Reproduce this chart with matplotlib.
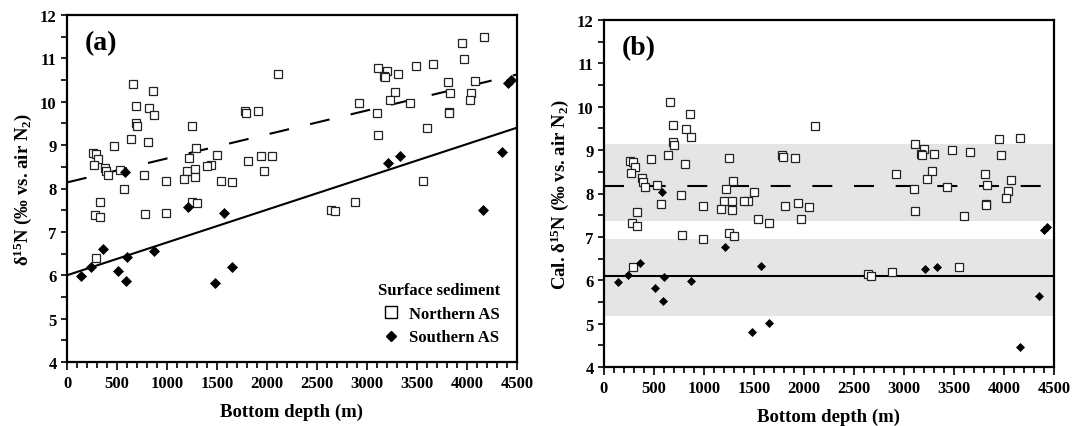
import numpy as np
import matplotlib
matplotlib.use('Agg')
import matplotlib.pyplot as plt
from matplotlib.lines import Line2D

plt.rcParams['font.family'] = 'Liberation Serif'
plt.rcParams['font.weight'] = 'bold'
plt.rcParams['mathtext.default'] = 'regular'

# ---- data ----
# Northern AS (open squares): bottom depth (m), measured d15N (a), calibrated d15N (b)
north_depth = [663, 863, 693, 823, 873, 690, 700, 1253, 643, 810,
               473, 1293, 257, 287, 307, 267, 1220, 1503, 1440, 1397,
               383, 393, 410, 533, 773, 987, 1200, 1280, 1283, 1167,
               1543, 1653, 1807, 1943, 2050, 1970, 1783, 1793, 1910, 2110,
               567, 333, 277, 333, 783, 987, 1253, 1297, 290,
               4165, 3950, 3973, 3113, 3200, 3170, 3183, 3305, 3485, 3658,
               3810, 4075, 3830, 4043, 4025, 3283, 3232, 3430, 2921, 3098,
               3817, 3822, 3600, 3113, 3555, 2880, 2642, 2675]
north_d15n = [10.42, 10.24, 9.90, 9.86, 9.70, 9.50, 9.43, 9.43, 9.15, 9.07,
              8.99, 8.94, 8.81, 8.79, 8.69, 8.54, 8.71, 8.77, 8.54, 8.51,
              8.48, 8.41, 8.31, 8.42, 8.31, 8.18, 8.41, 8.44, 8.26, 8.21,
              8.18, 8.15, 8.64, 8.76, 8.74, 8.41, 9.78, 9.74, 9.79, 10.64,
              7.98, 7.68, 7.39, 7.35, 7.41, 7.43, 7.70, 7.67, 6.39,
              11.49, 11.35, 10.98, 10.77, 10.70, 10.59, 10.56, 10.65, 10.82, 10.88,
              10.46, 10.48, 10.21, 10.21, 10.03, 10.23, 10.03, 9.96, 9.97, 9.73,
              9.76, 9.74, 9.39, 9.23, 8.18, 7.69, 7.51, 7.48]
north_cal = [10.12, 9.84, 9.59, 9.49, 9.30, 9.19, 9.12, 8.81, 8.89, 8.69,
             8.80, 8.29, 8.75, 8.72, 8.60, 8.48, 8.10, 8.03, 7.83, 7.82,
             8.36, 8.26, 8.16, 8.20, 7.96, 7.72, 7.82, 7.83, 7.63, 7.65,
             7.41, 7.33, 7.72, 7.77, 7.70, 7.41, 8.88, 8.84, 8.82, 9.56,
             7.75, 7.57, 7.31, 7.24, 7.05, 6.96, 7.08, 7.02, 6.30,
             9.27, 9.26, 8.88, 9.15, 9.02, 8.92, 8.89, 8.90, 9.00, 8.95,
             8.46, 8.32, 8.19, 8.06, 7.90, 8.52, 8.33, 8.16, 8.44, 8.10,
             7.75, 7.74, 7.48, 7.60, 6.31, 6.20, 6.14, 6.09]

# Southern AS (filled diamonds)
south_depth = [140, 237, 363, 513, 600, 593, 867, 580, 1207, 1567, 1480, 1647,
               4405, 4435, 3213, 3330, 4350, 4160]
south_d15n = [5.99, 6.18, 6.60, 6.10, 6.42, 5.87, 6.56, 8.38, 7.58, 7.43, 5.82, 6.18,
              10.44, 10.50, 8.58, 8.75, 8.83, 7.51]
south_cal = [5.97, 6.11, 6.40, 5.83, 6.07, 5.52, 5.99, 8.03, 6.77, 6.33, 4.81, 5.02,
             7.17, 7.23, 6.26, 6.31, 5.64, 4.45]

# regression lines in (a): intercept, slope (per m)
north_fit = (8.14, 0.000553)
south_fit = (6.00, 0.000756)
# means and bands in (b)
north_mean, north_band = 8.18, (7.37, 9.14)
south_mean, south_band = 6.10, (5.18, 6.94)

x_ticks = np.arange(0, 4501, 500)
y_ticks = np.arange(4, 13, 1)

fig = plt.figure(figsize=(10.73, 4.27), dpi=100)
ax1 = fig.add_axes([67 / 1073, 64 / 427, 450 / 1073, 347 / 427])
ax2 = fig.add_axes([604 / 1073, 59 / 427, 450 / 1073, 347 / 427])

dash = (0, (9.6, 10.4))
sq_kw = dict(ls='none', marker='s', ms=5.2, mfc='white', mec='#222222', mew=0.9)
dm_kw = dict(ls='none', marker='D', mfc='black', mec='black', mew=0.5)

# ---- panel (a) ----
xx = np.array([0, 4500])
ax1.plot(xx, north_fit[0] + north_fit[1] * xx, color='black', lw=1.5, ls=dash, zorder=2)
ax1.plot(xx, south_fit[0] + south_fit[1] * xx, color='black', lw=1.5, zorder=2)
ax1.plot(north_depth, north_d15n, zorder=3, **sq_kw)
ax1.plot(south_depth, south_d15n, ms=4.6, zorder=4, **dm_kw)
ax1.text(0.04, 0.92, '(a)', transform=ax1.transAxes, fontsize=20,
         fontweight='bold', va='center')
ax1.set_ylabel('δ$^{15}$N (‰ vs. air N$_{2}$)', fontsize=13.5, fontweight='bold')

handles = [Line2D([], [], ls='none', marker='s', ms=8, mfc='white', mec='black', mew=1.0),
           Line2D([], [], ls='none', marker='D', ms=5.5, mfc='black', mec='black')]
leg = ax1.legend(handles, ['Northern AS', 'Southern AS'], title='Surface sediment',
                 loc='lower right', frameon=False, fontsize=12, handletextpad=0.3,
                 handlelength=1.5, labelspacing=0.45, borderaxespad=0.6,
                 bbox_to_anchor=(1.0, 0.0))
leg.get_title().set_fontsize(12)
leg.get_title().set_fontweight('bold')

# ---- panel (b) ----
ax2.axhspan(north_band[0], north_band[1], color='#e5e5e5', lw=0, zorder=0)
ax2.axhspan(south_band[0], south_band[1], color='#e5e5e5', lw=0, zorder=0)
ax2.axhline(north_mean, color='black', lw=1.5, ls=dash, zorder=2)
ax2.axhline(south_mean, color='black', lw=1.5, zorder=2)
ax2.plot(north_depth, north_cal, zorder=3, **sq_kw)
ax2.plot(south_depth, south_cal, ms=3.8, zorder=4, **dm_kw)
ax2.text(0.04, 0.92, '(b)', transform=ax2.transAxes, fontsize=20,
         fontweight='bold', va='center')
ax2.set_ylabel('Cal. δ$^{15}$N (‰ vs. air N$_{2}$)', fontsize=13.5, fontweight='bold')

for ax in (ax1, ax2):
    ax.set_xlim(0, 4500)
    ax.set_ylim(4, 12)
    ax.set_xticks(x_ticks)
    ax.set_yticks(y_ticks)
    ax.set_xticks(np.arange(0, 4501, 100), minor=True)
    ax.set_yticks(np.arange(4, 12.01, 0.5), minor=True)
    ax.set_xlabel('Bottom depth (m)', fontsize=13.5, fontweight='bold', labelpad=8)
    ax.tick_params(axis='both', which='both', direction='out', width=1.2, labelsize=12)
    ax.tick_params(axis='x', which='major', length=6)
    ax.tick_params(axis='x', which='minor', length=4)
    ax.tick_params(axis='y', which='both', length=4)
    for lab in ax.get_xticklabels() + ax.get_yticklabels():
        lab.set_fontweight('bold')
    for sp in ax.spines.values():
        sp.set_linewidth(1.6)

fig.savefig('out.png', dpi=100)
